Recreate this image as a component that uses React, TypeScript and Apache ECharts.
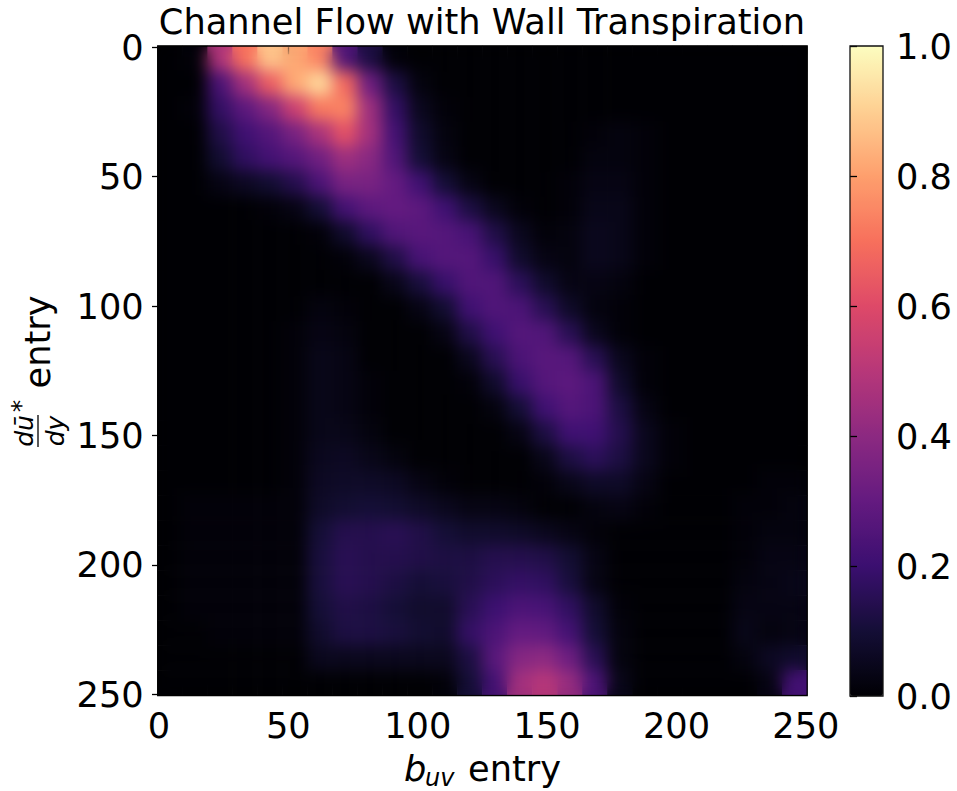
import React, { useEffect, useRef } from "react";
import * as echarts from "echarts";

const TITLE = "Channel Flow with Wall Transpiration";
const AXIS_TICKS = [0, 50, 100, 150, 200, 250];
const MAGMA = ["#000004", "#140e36", "#3b0f70", "#641a80", "#8c2981", "#b73779", "#de4968", "#f7705c", "#fe9f6d", "#fecf92", "#fcfdbf"];

// estimated cell values, in hundredths, top row first
const ROWS: number[][] = [
  [0, 1, 48, 70, 88, 82, 74, 25, 12, 1, 0, 0, 0, 0, 0, 0, 0, 0, 0, 0, 0, 0, 0, 0, 0, 0],
  [0, 0, 24, 45, 65, 82, 92, 68, 32, 12, 2, 0, 0, 0, 0, 0, 0, 0, 0, 0, 0, 0, 0, 0, 0, 0],
  [0, 1, 18, 28, 38, 55, 72, 74, 44, 18, 5, 1, 0, 0, 0, 0, 0, 0, 0, 0, 0, 0, 0, 0, 0, 0],
  [0, 0, 13, 21, 26, 35, 47, 62, 45, 22, 8, 2, 0, 0, 0, 0, 0, 1, 2, 1, 0, 0, 0, 0, 0, 0],
  [0, 0, 9, 17, 22, 26, 33, 44, 39, 25, 10, 3, 0, 0, 0, 0, 0, 2, 2, 1, 0, 0, 0, 0, 0, 0],
  [0, 0, 3, 6, 9, 14, 24, 35, 35, 30, 21, 10, 3, 0, 0, 0, 1, 3, 3, 1, 0, 0, 0, 0, 0, 0],
  [0, 0, 0, 0, 1, 3, 10, 22, 28, 30, 28, 21, 12, 5, 1, 0, 1, 4, 4, 1, 0, 0, 0, 0, 0, 0],
  [0, 0, 0, 0, 0, 0, 1, 8, 17, 25, 27, 26, 23, 13, 5, 1, 2, 5, 4, 1, 0, 0, 0, 0, 0, 0],
  [0, 0, 0, 0, 0, 0, 0, 1, 5, 13, 23, 26, 26, 19, 8, 3, 2, 5, 4, 1, 0, 0, 0, 0, 0, 0],
  [0, 0, 0, 0, 0, 0, 0, 0, 0, 4, 11, 19, 25, 25, 16, 8, 3, 3, 2, 0, 0, 0, 0, 0, 0, 0],
  [0, 0, 0, 0, 0, 0, 2, 1, 0, 0, 3, 9, 21, 25, 24, 15, 7, 2, 1, 0, 0, 0, 0, 0, 0, 0],
  [0, 0, 0, 0, 0, 1, 3, 2, 0, 0, 0, 3, 13, 21, 26, 25, 15, 5, 1, 0, 0, 0, 0, 0, 0, 0],
  [0, 0, 0, 0, 0, 1, 4, 3, 0, 0, 0, 0, 5, 15, 24, 27, 26, 15, 5, 1, 0, 0, 0, 0, 0, 0],
  [0, 0, 0, 0, 0, 1, 4, 3, 1, 0, 0, 0, 1, 8, 19, 26, 28, 24, 8, 1, 0, 0, 0, 0, 0, 0],
  [0, 0, 0, 0, 0, 1, 4, 3, 1, 0, 0, 0, 0, 2, 10, 21, 26, 24, 12, 3, 0, 0, 0, 0, 0, 0],
  [0, 0, 0, 0, 0, 1, 4, 4, 2, 0, 0, 0, 0, 0, 3, 12, 21, 21, 14, 5, 1, 0, 0, 0, 0, 0],
  [0, 0, 0, 0, 0, 1, 5, 6, 4, 2, 0, 0, 0, 0, 0, 4, 12, 16, 12, 5, 1, 0, 0, 0, 0, 0],
  [0, 0, 0, 0, 0, 1, 6, 7, 7, 6, 3, 1, 0, 0, 0, 1, 4, 7, 7, 3, 0, 0, 0, 0, 1, 1],
  [0, 1, 1, 1, 1, 1, 7, 9, 10, 9, 7, 5, 3, 3, 2, 0, 0, 2, 3, 1, 0, 0, 0, 1, 1, 2],
  [0, 1, 1, 1, 1, 1, 10, 14, 14, 15, 13, 10, 8, 8, 7, 5, 3, 1, 0, 0, 0, 0, 0, 1, 2, 2],
  [0, 1, 1, 1, 1, 1, 11, 15, 14, 14, 13, 12, 12, 14, 14, 13, 9, 3, 0, 0, 0, 0, 0, 1, 3, 3],
  [0, 1, 1, 1, 1, 1, 11, 15, 14, 12, 10, 11, 13, 16, 18, 17, 11, 3, 0, 0, 0, 0, 0, 2, 3, 4],
  [0, 1, 1, 1, 1, 1, 10, 13, 12, 10, 8, 8, 15, 20, 24, 23, 17, 8, 1, 0, 0, 0, 0, 3, 3, 3],
  [0, 0, 1, 1, 1, 1, 8, 12, 12, 11, 9, 8, 18, 24, 30, 29, 22, 10, 2, 0, 0, 0, 0, 4, 2, 3],
  [0, 0, 0, 0, 0, 0, 5, 5, 5, 5, 5, 5, 12, 27, 38, 40, 32, 15, 2, 0, 0, 0, 0, 2, 6, 8],
  [0, 0, 0, 0, 0, 0, 0, 0, 0, 0, 0, 1, 10, 22, 45, 50, 42, 24, 4, 0, 0, 0, 0, 0, 3, 22],
];

const CELLS: [number, number, number][] = [];
ROWS.forEach((row, r) => row.forEach((v, c) => CELLS.push([c, r, v / 100])));
const BANDS = ROWS.map((_, i) => String(i));

const PX = { l: 157.7, t: 46, s: 649.5 };
const CB = { l: 850, t: 46, w: 33, h: 650 };
const FS = 35.2;
const INK = "#000";
const FONT = "DejaVu Sans";

export default function App() {
  const ref = useRef<HTMLDivElement>(null);
  useEffect(() => {
    const chart = echarts.init(ref.current!, undefined, { renderer: "svg" });
    const valueAxis = (extra: any) => ({
      type: "value",
      min: -0.5,
      max: 250.5,
      z: 5,
      axisLine: { show: false },
      splitLine: { show: false },
      axisTick: { show: true, length: 7, lineStyle: { color: INK, width: 1.3 }, customValues: AXIS_TICKS },
      axisLabel: { show: true, color: INK, fontSize: FS, fontFamily: FONT, margin: 12, customValues: AXIS_TICKS },
      ...extra,
    });
    const rotated = (text: string, x: number, y: number, font: string) => ({
      type: "text",
      x,
      y,
      rotation: Math.PI / 2,
      z: 50,
      style: { text, font, fill: INK, align: "center", verticalAlign: "middle" },
    });
    chart.setOption({
      animation: false,
      backgroundColor: "#fff",
      textStyle: { fontFamily: FONT },
      title: {
        text: TITLE,
        left: 482,
        top: 4,
        textAlign: "center",
        padding: 0,
        textStyle: { fontFamily: FONT, fontSize: FS, fontWeight: "normal", color: INK },
      },
      grid: [
        { left: PX.l, top: PX.t, width: PX.s, height: PX.s },
        { left: CB.l, top: CB.t, width: CB.w, height: CB.h },
      ],
      xAxis: [
        valueAxis({ gridIndex: 0, position: "bottom" }),
        { type: "category", gridIndex: 0, data: BANDS, show: false },
        { type: "value", gridIndex: 1, min: 0, max: 1, show: false },
      ],
      yAxis: [
        valueAxis({ gridIndex: 0, position: "left", inverse: true, axisLabel: { show: true, color: INK, fontSize: FS, fontFamily: FONT, margin: 14, customValues: AXIS_TICKS } }),
        { type: "category", gridIndex: 0, data: BANDS, show: false, inverse: true },
        {
          type: "value",
          gridIndex: 1,
          position: "right",
          min: 0,
          max: 1,
          interval: 0.2,
          z: 5,
          axisLine: { show: false },
          splitLine: { show: false },
          axisTick: { show: true, length: 7, lineStyle: { color: INK, width: 1.3 } },
          axisLabel: { color: INK, fontSize: FS, fontFamily: FONT, margin: 13, formatter: (v: number) => v.toFixed(1) },
        },
      ],
      visualMap: {
        type: "continuous",
        seriesIndex: 0,
        min: 0,
        max: 1,
        left: CB.l,
        top: CB.t,
        padding: 0,
        itemWidth: CB.w,
        itemHeight: CB.h,
        calculable: false,
        hoverLink: false,
        inRange: { color: MAGMA },
      },
      series: [
        {
          type: "heatmap",
          xAxisIndex: 1,
          yAxisIndex: 1,
          data: CELLS,
          itemStyle: { borderWidth: 0 },
          emphasis: { disabled: true },
          progressive: 0,
        },
      ],
      graphic: {
        elements: [
          { type: "rect", z: 40, shape: { x: PX.l, y: PX.t, width: PX.s, height: PX.s }, style: { fill: "none", stroke: "#000", lineWidth: 1.3 } },
          { type: "rect", z: 40, shape: { x: CB.l, y: CB.t, width: CB.w, height: CB.h }, style: { fill: "none", stroke: "#111", lineWidth: 1.3 } },
          { type: "text", z: 50, x: 404, y: 751, style: { text: "b", font: `italic ${FS}px ${FONT}`, fill: INK, verticalAlign: "top" } },
          { type: "text", z: 50, x: 425, y: 766, style: { text: "uv", font: `italic 24px ${FONT}`, fill: INK, verticalAlign: "top" } },
          { type: "text", z: 50, x: 468, y: 751, style: { text: "entry", font: `${FS}px ${FONT}`, fill: INK, verticalAlign: "top" } },
          rotated("dū", 24, 431, `italic 25px ${FONT}`),
          rotated("dy", 55, 431, `italic 25px ${FONT}`),
          rotated("*", 20, 406, `25px ${FONT}`),
          rotated("entry", 37, 342, `${FS}px ${FONT}`),
          { type: "line", z: 50, shape: { x1: 38, y1: 415, x2: 38, y2: 447 }, style: { stroke: INK, lineWidth: 1.3 } },
        ],
      },
    });
    return () => chart.dispose();
  }, []);
  return (
    <div style={{ position: "absolute", left: 0, top: 0, width: 957, height: 791 }}>
      <div ref={ref} style={{ width: 957, height: 791 }} />
      <div
        style={{
          position: "absolute",
          left: PX.l + 1,
          top: PX.t + 1,
          width: PX.s - 2,
          height: PX.s - 2,
          backdropFilter: "blur(8px)",
          WebkitBackdropFilter: "blur(8px)",
        }}
      />
    </div>
  );
}
